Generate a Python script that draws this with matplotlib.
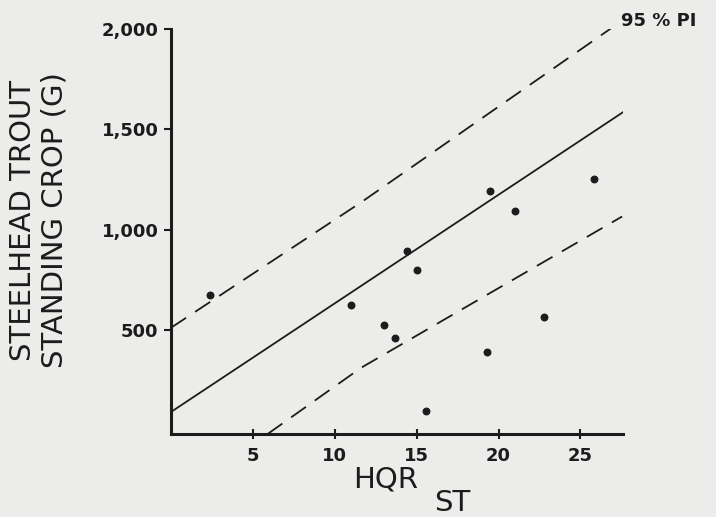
import matplotlib
matplotlib.use("Agg")
import matplotlib.pyplot as plt

# observed sites: HQR_ST vs steelhead standing crop (g)
hqr = [2.4, 11.0, 13.0, 13.7, 14.4, 15.0, 15.6, 19.3, 19.5, 21.0, 22.8, 25.8]
crop = [675, 625, 525, 460, 895, 800, 95, 390, 1190, 1090, 565, 1250]

# regression line and 95% prediction interval
fit_x = [0.0, 27.6]
fit_y = [90, 1585]
pi_x = [0.0, 11.6, 27.25]
pi_upper = [510, 1135, 2025]
pi_low_x = [5.9, 11.6, 27.55]
pi_lower = [-20, 310, 1065]

bg = '#ececea'
ink = '#1c1c1c'

fig = plt.figure(figsize=(7.16, 5.17), dpi=100, facecolor=bg)
ax = fig.add_axes([0.2388, 0.1605, 0.6313, 0.7834], facecolor=bg)

ax.plot(fit_x, fit_y, color=ink, lw=1.3)
ax.plot(pi_x, pi_upper, color=ink, lw=1.3, dashes=(10, 6))
ax.plot(pi_low_x, pi_lower, color=ink, lw=1.3, dashes=(10, 6))
ax.scatter(hqr, crop, s=22, color=ink, zorder=3)

ax.set_xlim(0, 27.6)
ax.set_ylim(-20, 2000)
ax.set_xticks([5, 10, 15, 20, 25])
ax.set_yticks([500, 1000, 1500, 2000])
ax.set_yticklabels(['500', '1,000', '1,500', '2,000'])

for s in ['top', 'right']:
    ax.spines[s].set_visible(False)
for s in ['left', 'bottom']:
    ax.spines[s].set_linewidth(2.2)
    ax.spines[s].set_color(ink)

ax.tick_params(axis='y', direction='out', length=5, width=1.5, colors=ink,
               labelsize=13, pad=4)
ax.tick_params(axis='x', direction='inout', length=7, width=1.5, colors=ink,
               labelsize=13, pad=6)
for lbl in ax.get_xticklabels() + ax.get_yticklabels():
    lbl.set_fontweight('bold')

ax.text(27.5, 2040, '95 % PI', fontsize=13, fontweight='bold', color=ink,
        ha='left', va='center', clip_on=False)

fig.text(0.054, 0.574, 'STEELHEAD TROUT\nSTANDING CROP (G)', rotation=90,
         fontsize=21, color=ink, ha='center', va='center', linespacing=1.15)
fig.text(0.539, 0.072, 'HQR', fontsize=21, color=ink, ha='center', va='center')
fig.text(0.632, 0.028, 'ST', fontsize=21, color=ink, ha='center', va='center')

fig.savefig('out.png', dpi=100, facecolor=bg)
